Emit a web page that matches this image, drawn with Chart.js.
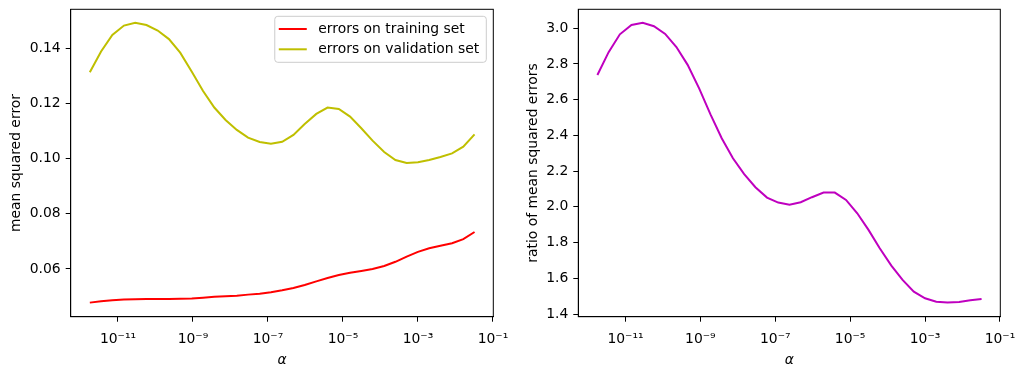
<!DOCTYPE html>
<html>
<head>
<meta charset="utf-8">
<script src="https://cdn.jsdelivr.net/npm/chart.js@4.4.1/dist/chart.umd.min.js"></script>
<style>
  html, body { margin: 0; padding: 0; background: #fff; }
  #wrap { position: relative; width: 1026px; height: 375px; }
  #wrap canvas { position: absolute; top: 0; }
</style>
</head>
<body>
<div id="wrap">
  <canvas id="mseChart" width="513" height="375" style="left:0px"></canvas>
  <canvas id="ratioChart" width="513" height="375" style="left:513px"></canvas>
</div>
<script>
// log10(alpha) of every point
const alphaExp = [-11.75, -11.45, -11.15, -10.84, -10.54, -10.24, -9.94, -9.64, -9.34, -9.03,
                  -8.73, -8.43, -8.13, -7.83, -7.53, -7.22, -6.92, -6.62, -6.32, -6.02,
                  -5.71, -5.41, -5.11, -4.81, -4.51, -4.21, -3.90, -3.60, -3.30, -3.00,
                  -2.70, -2.40, -2.09, -1.79, -1.49];
const trainErr = [0.0478, 0.0483, 0.0487, 0.0489, 0.0490, 0.0491, 0.0491, 0.0491, 0.0492, 0.0493,
                  0.0496, 0.0499, 0.0501, 0.0503, 0.0507, 0.0510, 0.0516, 0.0523, 0.0531, 0.0542,
                  0.0555, 0.0567, 0.0578, 0.0586, 0.0593, 0.0600, 0.0611, 0.0626, 0.0645, 0.0662,
                  0.0675, 0.0684, 0.0693, 0.0708, 0.0734];
const validErr = [0.1313, 0.1388, 0.1448, 0.1482, 0.1492, 0.1484, 0.1464, 0.1433, 0.1384, 0.1315,
                  0.1245, 0.1185, 0.1140, 0.1104, 0.1076, 0.1060, 0.1054, 0.1061, 0.1086, 0.1125,
                  0.1162, 0.1185, 0.1180, 0.1152, 0.1110, 0.1065, 0.1024, 0.0995, 0.0984, 0.0987,
                  0.0995, 0.1006, 0.1019, 0.1043, 0.1088];
const errRatio = [2.738, 2.866, 2.966, 3.018, 3.030, 3.011, 2.968, 2.895, 2.795, 2.662,
                  2.518, 2.384, 2.272, 2.183, 2.110, 2.052, 2.024, 2.012, 2.026, 2.054,
                  2.080, 2.080, 2.039, 1.964, 1.871, 1.768, 1.671, 1.591, 1.525, 1.488,
                  1.469, 1.464, 1.467, 1.477, 1.484];
const xTickExp = [-11, -9, -7, -5, -3, -1];
const mseTicks = [0.06, 0.08, 0.10, 0.12, 0.14];
const ratioTicks = [1.4, 1.6, 1.8, 2.0, 2.2, 2.4, 2.6, 2.8, 3.0];

Chart.defaults.font.family = '"DejaVu Sans", sans-serif';
Chart.defaults.font.size = 13.9;
Chart.defaults.color = '#000';

const sup = {'-': '⁻', '0': '⁰', '1': '¹', '2': '²', '3': '³', '4': '⁴', '5': '⁵', '6': '⁶', '7': '⁷', '8': '⁸', '9': '⁹'};
const pow10Label = v => '10' + String(Math.round(Math.log10(v))).split('').map(c => sup[c]).join('');

const toPoints = ys => ys.map((y, i) => ({ x: Math.pow(10, alphaExp[i]), y: y }));

// black box round the plot area
const framePlugin = {
    id: 'frame',
    afterDraw(chart) {
        const { ctx, chartArea: a } = chart;
        ctx.save();
        ctx.strokeStyle = '#000';
        ctx.lineWidth = 1;
        ctx.strokeRect(a.left, a.top, a.width, a.height);
        ctx.restore();
    }
};

// matplotlib-like legend in the upper right corner
const boxLegend = {
    id: 'boxLegend',
    afterDraw(chart) {
        const { ctx, chartArea: a } = chart;
        const sets = chart.data.datasets;
        ctx.save();
        ctx.font = '13.9px "DejaVu Sans"';
        const textW = Math.max(...sets.map(d => ctx.measureText(d.label).width));
        const w = 43.5 + textW + 7;
        const h = 46;
        const right = a.right - 7, top = a.top + 7, left = right - w;
        ctx.beginPath();
        ctx.roundRect(left, top, w, h, 3);
        ctx.fillStyle = 'rgba(255,255,255,0.8)';
        ctx.fill();
        ctx.strokeStyle = '#cccccc';
        ctx.lineWidth = 1;
        ctx.stroke();
        sets.forEach((d, i) => {
            const y = top + 12.7 + i * 20.3;
            ctx.strokeStyle = d.borderColor;
            ctx.lineWidth = 2;
            ctx.beginPath();
            ctx.moveTo(left + 4, y);
            ctx.lineTo(left + 32, y);
            ctx.stroke();
            ctx.fillStyle = '#000';
            ctx.textBaseline = 'middle';
            ctx.fillText(d.label, left + 43.5, y);
        });
        ctx.restore();
    }
};

const makeOptions = (cfg) => ({
    responsive: false,
    animation: false,
    devicePixelRatio: 1,
    layout: { padding: { top: 9.3, right: cfg.padRight, left: 0, bottom: 0 } },
    plugins: { legend: { display: false }, tooltip: { enabled: false } },
    elements: { point: { radius: 0 }, line: { tension: 0, borderWidth: 2 } },
    scales: {
        x: {
            type: 'logarithmic',
            min: Math.pow(10, -12.26),
            max: Math.pow(10, -0.99),
            afterBuildTicks: s => { s.ticks = xTickExp.map(e => ({ value: Math.pow(10, e) })); },
            afterFit: s => { s.height = 58.3; s.paddingLeft = 0; s.paddingRight = 0; },
            ticks: { callback: v => pow10Label(v), maxRotation: 0, autoSkip: false, padding: 9 },
            grid: { drawOnChartArea: false, tickLength: 5, color: '#000' },
            border: { color: '#000', width: 1 },
            title: { display: true, text: 'α', font: { style: 'italic', size: 13.9 }, padding: { top: 0, bottom: 6 } }
        },
        y: {
            min: cfg.yMin,
            max: cfg.yMax,
            afterBuildTicks: s => { s.ticks = cfg.yTicks.map(v => ({ value: v })); },
            afterFit: s => { s.width = cfg.yWidth; s.paddingTop = 0; s.paddingBottom = 0; },
            ticks: { callback: v => v.toFixed(cfg.digits), padding: 5 },
            grid: { drawOnChartArea: false, tickLength: 5, color: '#000' },
            border: { color: '#000', width: 1 },
            title: { display: true, text: cfg.yTitle, padding: { top: cfg.titlePad, bottom: 0 } }
        }
    }
});

new Chart(document.getElementById('mseChart').getContext('2d'), {
    type: 'line',
    data: {
        datasets: [
            { label: 'errors on training set', data: toPoints(trainErr), borderColor: '#ff0000' },
            { label: 'errors on validation set', data: toPoints(validErr), borderColor: '#bfbf00' }
        ]
    },
    options: makeOptions({
        padRight: 19.7, yWidth: 70.7, titlePad: 7.6,
        yMin: 0.0427, yMax: 0.1541, yTicks: mseTicks, digits: 2,
        yTitle: 'mean squared error'
    }),
    plugins: [framePlugin, boxLegend]
});

new Chart(document.getElementById('ratioChart').getContext('2d'), {
    type: 'line',
    data: {
        datasets: [
            { label: 'ratio', data: toPoints(errRatio), borderColor: '#bf00bf' }
        ]
    },
    options: makeOptions({
        padRight: 25.7, yWidth: 65.3, titlePad: 11.6,
        yMin: 1.385, yMax: 3.106, yTicks: ratioTicks, digits: 1,
        yTitle: 'ratio of mean squared errors'
    }),
    plugins: [framePlugin]
});
</script>
</body>
</html>
